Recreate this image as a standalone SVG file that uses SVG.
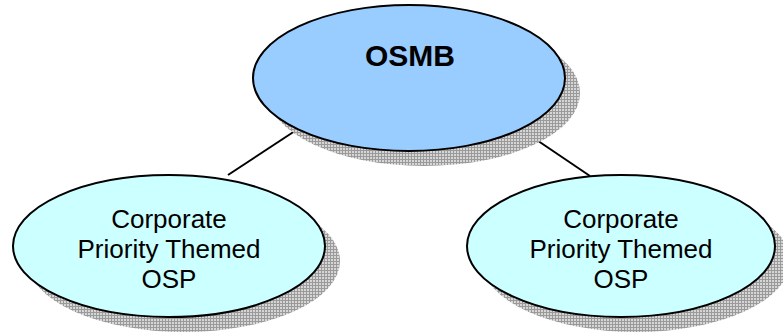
<svg xmlns="http://www.w3.org/2000/svg" width="783" height="332" viewBox="0 0 783 332">
  <defs>
    <!-- fine cross-hatch used for the drop shadows -->
    <pattern id="hatch" width="3" height="3" patternUnits="userSpaceOnUse">
      <rect width="3" height="3" fill="#d6d6d6"/>
      <path d="M0 0.5H3M0.5 0V3" stroke="#9a9a9a" stroke-width="1" fill="none"/>
    </pattern>
    <style>
      .shadow { fill: url(#hatch); stroke: none; }
      .node { stroke: #000; stroke-width: 2; }
      .top { fill: #99ccff; }
      .sub { fill: #ccffff; }
      .label { font-family: "Liberation Sans", Arial, sans-serif; fill: #000; text-anchor: middle; }
      .title { font-size: 30px; font-weight: bold; }
      .body { font-size: 26px; }
      .link { stroke: #000; stroke-width: 2; fill: none; }
    </style>
  </defs>
  <rect width="783" height="332" fill="#fff"/>

  <g id="connectors">
    <line class="link" x1="228" y1="175" x2="301" y2="127"/>
    <line class="link" x1="519" y1="128" x2="590" y2="176"/>
  </g>

  <g id="osmb">
    <ellipse class="shadow" cx="424" cy="93" rx="156" ry="73"/>
    <ellipse class="node top" cx="409" cy="78" rx="156" ry="73"/>
    <text class="label title" x="410" y="66">OSMB</text>
  </g>

  <g id="osp-left">
    <ellipse class="shadow" cx="184" cy="261" rx="156" ry="71"/>
    <ellipse class="node sub" cx="169" cy="246" rx="156" ry="71"/>
    <text class="label body" x="169" y="228">Corporate</text>
    <text class="label body" x="169" y="258">Priority Themed</text>
    <text class="label body" x="169" y="288">OSP</text>
  </g>

  <g id="osp-right">
    <ellipse class="shadow" cx="636" cy="261" rx="154" ry="71"/>
    <ellipse class="node sub" cx="621" cy="246" rx="154" ry="71"/>
    <text class="label body" x="621" y="228">Corporate</text>
    <text class="label body" x="621" y="258">Priority Themed</text>
    <text class="label body" x="621" y="288">OSP</text>
  </g>
</svg>
